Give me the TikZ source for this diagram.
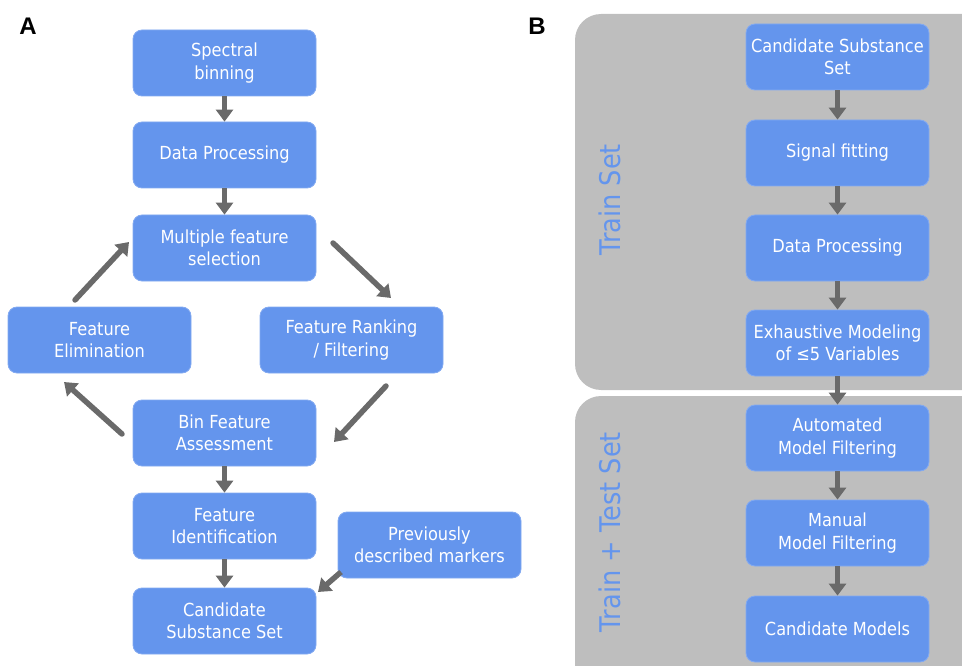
\documentclass[tikz,border=0pt]{standalone}
\usepackage{fontspec}
\setmainfont{DejaVu Sans}[FakeStretch=0.9]
\newfontfamily\lblfont{Liberation Sans}
\usetikzlibrary{arrows.meta}
\definecolor{boxblue}{HTML}{6495ED}
\definecolor{panelgray}{HTML}{BEBEBE}
\definecolor{arrgray}{HTML}{6A6A6A}
\tikzset{
  stepbox/.style={fill=boxblue, draw=boxblue!80!white, line width=0.8pt, rounded corners=9pt,
    minimum width=183pt, minimum height=66pt, inner sep=0pt, text=white, align=center,
    font=\fontsize{18}{22.5}\selectfont},
  flow/.style={draw=arrgray, line width=5.5pt, -{Triangle[width=17pt,length=12pt]}},
  panel/.style={fill=panelgray, rounded corners=26pt},
  sidelbl/.style={text=boxblue, rotate=90, font=\fontsize{28.5}{30}\selectfont},
  letter/.style={font=\lblfont\bfseries\fontsize{24}{24}\selectfont, text=black}
}
\begin{document}
\begin{tikzpicture}[x=1pt,y=-1pt]
\useasboundingbox (0,0) rectangle (962,666);
\clip (0,0) rectangle (962,666);
% panels
\path[panel] (575,14) rectangle (990,390);
\path[panel] (575,396) rectangle (990,700);
\node[sidelbl] (trainlbl) at (610,200) {Train Set};
\node[sidelbl] (testlbl) at (610,532) {Train + Test Set};
% letters
\node[letter] (la) at (28,26) {A};
\node[letter] (lb) at (537,26) {B};
% panel A
\node[stepbox] (bin) at (224.5,63) {Spectral\\binning};
\node[stepbox] (dpa) at (224.5,155) {Data Processing};
\node[stepbox] (mfs) at (224.5,248) {Multiple feature\\selection};
\node[stepbox] (fel) at (99.5,340) {Feature\\Elimination};
\node[stepbox] (frk) at (351.5,340) {Feature Ranking\\/ Filtering};
\node[stepbox] (bfa) at (224.5,433) {Bin Feature\\Assessment};
\node[stepbox] (fid) at (224.5,526) {Feature\\Identification};
\node[stepbox] (pdm) at (429.5,545) {Previously\\described markers};
\node[stepbox] (cssa) at (224.5,621) {Candidate\\Substance Set};
\draw[flow] (bin.south) -- (dpa.north);
\draw[flow] (dpa.south) -- (mfs.north);
\draw[flow] (bfa.south) -- (fid.north);
\draw[flow] (fid.south) -- (cssa.north);
\coordinate (c1s) at (75,300); \coordinate (c1e) at (129,242);
\coordinate (c2s) at (333,243); \coordinate (c2e) at (391,298);
\coordinate (c3s) at (386,386); \coordinate (c3e) at (334,442);
\coordinate (c4s) at (122,434); \coordinate (c4e) at (64,382);
\coordinate (c5s) at (341,572); \coordinate (c5e) at (318,592);
\draw[flow, line cap=round] (c1s) -- (c1e);
\draw[flow, line cap=round] (c2s) -- (c2e);
\draw[flow, line cap=round] (c3s) -- (c3e);
\draw[flow, line cap=round] (c4s) -- (c4e);
\draw[flow] (c5s) -- (c5e);
% panel B
\node[stepbox] (cssb) at (837.5,57) {Candidate Substance\\Set};
\node[stepbox] (sfit) at (837.5,153) {Signal fitting};
\node[stepbox] (dpb) at (837.5,248) {Data Processing};
\node[stepbox] (exm) at (837.5,343) {Exhaustive Modeling\\of ≤5 Variables};
\node[stepbox] (amf) at (837.5,438) {Automated\\Model Filtering};
\node[stepbox] (mmf) at (837.5,533) {Manual\\Model Filtering};
\node[stepbox] (cmod) at (837.5,629) {Candidate Models};
\draw[flow] (cssb.south) -- (sfit.north);
\draw[flow] (sfit.south) -- (dpb.north);
\draw[flow] (dpb.south) -- (exm.north);
\draw[flow] (exm.south) -- (amf.north);
\draw[flow] (amf.south) -- (mmf.north);
\draw[flow] (mmf.south) -- (cmod.north);
\end{tikzpicture}
\end{document}
